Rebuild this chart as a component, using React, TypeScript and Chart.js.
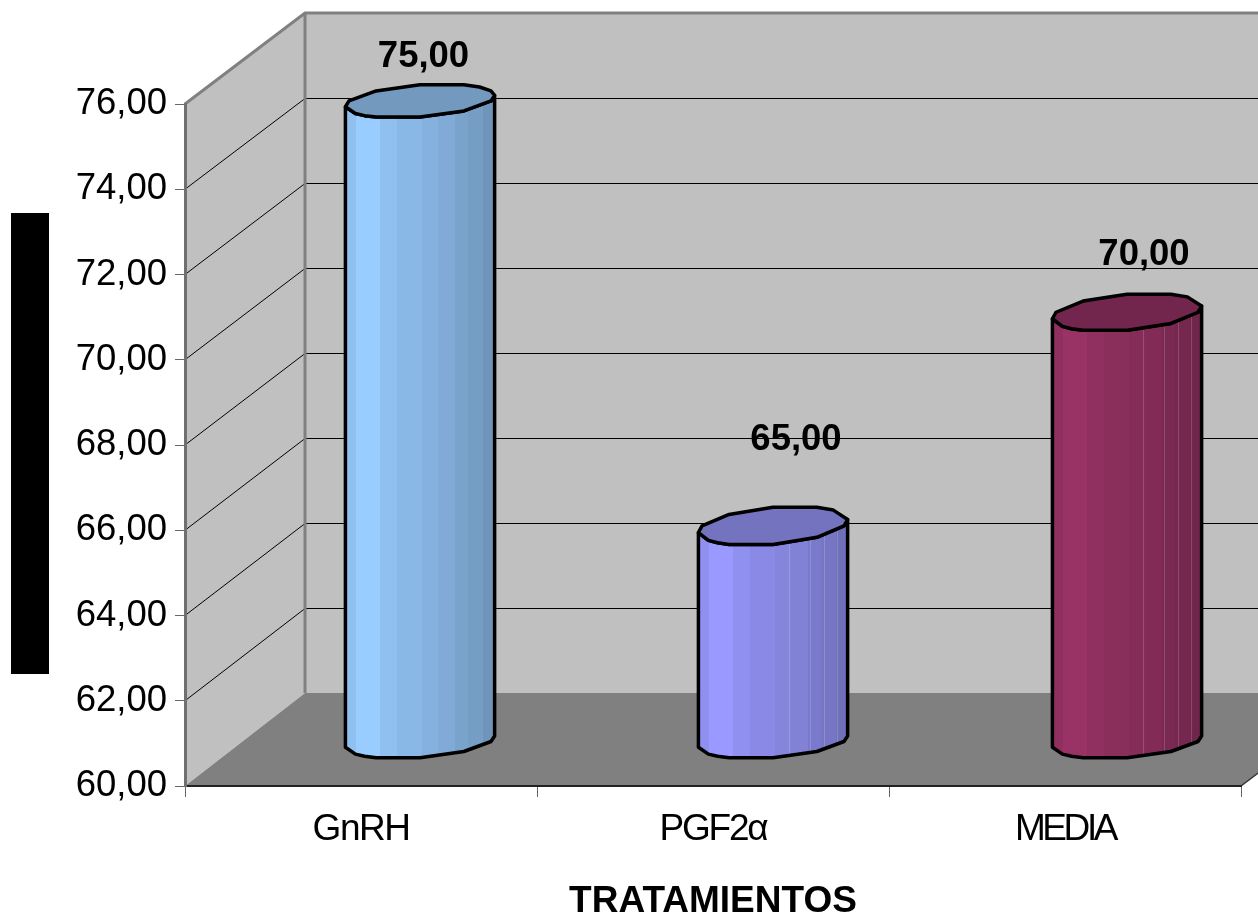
import { useEffect, useRef } from "react";
import { Chart, registerables } from "chart.js";

Chart.register(...registerables);

const categories = ["GnRH", "PGF2α", "MEDIA"];
const values = [75, 65, 70];
const yTicks = [60, 62, 64, 66, 68, 70, 72, 74, 76];
const xTitle = "TRATAMIENTOS";
const baseColors = [
  [153, 204, 255],
  [153, 153, 255],
  [153, 51, 102],
];

const FONT = '"Liberation Sans", Arial, sans-serif';
const fmt = (v: number) => v.toFixed(2).replace(".", ",");

// Oblique projection of the plot box: the vector from the front plane to the back wall.
const DEPTH_X = 120;
const DEPTH_Y = -91;
const BACK_WALL_SQUEEZE = 680 / 682;

// Cylinder cross-section, seen through the same projection.
const RADIUS_X = 71;
const SHEAR_X = 23;
const BASE_RADIUS_Y = 17;
const TOP_RADIUS_Y = [17, 19.5, 19];
const TOP_NUDGE = [-0.2, -1.5, -2];
const BASE_NUDGE = 1;
const CENTER_NUDGE = [-1, 0, 2];
const TOP_ARC = [
  [396, 415],
  [414],
  [414],
];
const FRONT_ARC = [200, 228, 240, 252, 288, 324, 360, 379];
const BACK_ARC = [72, 108, 144, 180];
const SHADE_EDGES = [-76, -64, -40, -23, 2, 18, 35, 48, 63, 76];
const SHADE_LEVELS = [0.94, 1, 0.94, 0.9, 0.87, 0.84, 0.8, 0.77, 0.73];
const SEAM_EDGES = [16, 37, 51, 64];
const SEAM_BARS = [false, true, true];
const TOP_LEVEL = 0.75;
const LABEL_SHIFT = [
  [3.5, -43.5],
  [23, -86],
  [17, -57],
];
const X_LABEL_SPACING = [-1.5, -2.2, -3.4];

const ringPoint = (cx: number, cy: number, deg: number, ry: number) => {
  const t = (deg * Math.PI) / 180;
  return [cx + RADIUS_X * Math.cos(t) + SHEAR_X * Math.sin(t), cy - ry * Math.sin(t)];
};
const shade = (rgb: number[], k: number) =>
  `rgb(${rgb.map((c) => Math.round(c * k)).join(",")})`;

const polygon = (ctx: CanvasRenderingContext2D, pts: number[][]) => {
  ctx.beginPath();
  pts.forEach(([x, y], i) => (i ? ctx.lineTo(x, y) : ctx.moveTo(x, y)));
  ctx.closePath();
};

// Side wall, back wall, floor and the gridlines that run across them.
const boxPlugin = {
  id: "box3d",
  beforeDraw(chart: any) {
    const { ctx, scales } = chart;
    const { left, right } = chart.chartArea;
    const y = scales.y;
    const lo = y.getPixelForValue(yTicks[0]);
    const hi = y.getPixelForValue(yTicks[yTicks.length - 1]);
    const bx = left + DEPTH_X;
    const bRight = right + DEPTH_X;
    const backY = (p: number) => hi + DEPTH_Y + (p - hi) * BACK_WALL_SQUEEZE;
    ctx.save();
    ctx.fillStyle = "#c0c0c0";
    ctx.fillRect(bx, backY(hi), bRight - bx, backY(lo) - backY(hi));
    polygon(ctx, [
      [left, hi],
      [bx, backY(hi)],
      [bx, backY(lo)],
      [left, lo],
    ]);
    ctx.fill();
    ctx.fillStyle = "#808080";
    polygon(ctx, [
      [left, lo],
      [bx, backY(lo)],
      [bRight, backY(lo)],
      [right, lo],
    ]);
    ctx.fill();

    ctx.strokeStyle = "#000";
    ctx.lineWidth = 1;
    yTicks.slice(1, -1).forEach((t) => {
      const p = y.getPixelForValue(t);
      const q = Math.round(backY(p)) + 0.5;
      ctx.beginPath();
      ctx.moveTo(left, p);
      ctx.lineTo(bx, q);
      ctx.lineTo(bRight, q);
      ctx.stroke();
    });

    ctx.strokeStyle = "#808080";
    ctx.lineWidth = 3;
    ctx.beginPath();
    ctx.moveTo(left, hi);
    ctx.lineTo(bx, backY(hi));
    ctx.lineTo(bRight, backY(hi));
    ctx.moveTo(bx, backY(hi));
    ctx.lineTo(bx, backY(lo));
    ctx.stroke();

    ctx.strokeStyle = "#333";
    ctx.lineWidth = 1.5;
    ctx.beginPath();
    ctx.moveTo(right, lo);
    ctx.lineTo(right + DEPTH_X, lo + DEPTH_Y);
    ctx.stroke();

    // Masked axis title.
    ctx.fillStyle = "#000";
    ctx.fillRect(11, 213, 38, 461);
    ctx.restore();
  },
};

// Faceted cylinders placed half way into the box, with their value labels.
const cylinderPlugin = {
  id: "cylinders",
  afterDatasetsDraw(chart: any) {
    const { ctx, scales } = chart;
    const bars = chart.getDatasetMeta(0).data;
    const floor = scales.y.getPixelForValue(yTicks[0]);
    ctx.save();
    ctx.lineJoin = "round";
    bars.forEach((bar: any, i: number) => {
      const cx = bar.x + DEPTH_X / 2 + CENTER_NUDGE[i];
      const top = bar.y + DEPTH_Y / 2 + TOP_NUDGE[i];
      const bottom = floor + DEPTH_Y / 2 + BASE_NUDGE;
      const ry = TOP_RADIUS_Y[i];
      const rgb = baseColors[i];
      const body = [
        ...FRONT_ARC.map((a) => ringPoint(cx, bottom, a, BASE_RADIUS_Y)),
        ...FRONT_ARC.slice().reverse().map((a) => ringPoint(cx, top, a, ry)),
      ];

      ctx.save();
      polygon(ctx, body);
      ctx.clip();
      SHADE_LEVELS.forEach((k, b) => {
        ctx.fillStyle = shade(rgb, k);
        ctx.fillRect(
          cx + SHADE_EDGES[b],
          top - 30,
          SHADE_EDGES[b + 1] - SHADE_EDGES[b] + 0.5,
          bottom - top + 60
        );
      });
      if (SEAM_BARS[i]) {
        ctx.strokeStyle = "rgba(255,255,255,0.17)";
        ctx.lineWidth = 1;
        SEAM_EDGES.forEach((e) => {
          const sx = Math.round(cx + e) + 0.5;
          ctx.beginPath();
          ctx.moveTo(sx, top - 30);
          ctx.lineTo(sx, bottom + 30);
          ctx.stroke();
        });
      }
      ctx.restore();

      ctx.strokeStyle = "#000";
      ctx.lineWidth = 3.5;
      polygon(ctx, body);
      ctx.stroke();

      const ring = [...BACK_ARC, ...FRONT_ARC, ...TOP_ARC[i]];
      polygon(ctx, ring.map((a) => ringPoint(cx, top, a, ry)));
      ctx.fillStyle = shade(rgb, TOP_LEVEL);
      ctx.fill();
      ctx.stroke();

      ctx.fillStyle = "#000";
      ctx.font = `bold 36.5px ${FONT}`;
      ctx.textAlign = "center";
      ctx.textBaseline = "middle";
      ctx.fillText(fmt(values[i]), cx + LABEL_SHIFT[i][0], top + LABEL_SHIFT[i][1]);
    });
    ctx.restore();
  },
};

export default function App() {
  const ref = useRef<HTMLCanvasElement>(null);

  useEffect(() => {
    if (!ref.current) return;
    const chart = new Chart(ref.current, {
      type: "bar",
      data: {
        labels: categories,
        datasets: [{ data: values, backgroundColor: "transparent", borderWidth: 0 }],
      },
      plugins: [boxPlugin, cylinderPlugin],
      options: {
        animation: false,
        responsive: false,
        layout: { padding: { top: 104, right: 17, left: 0, bottom: 0 } },
        plugins: { legend: { display: false }, tooltip: { enabled: false } },
        scales: {
          x: {
            afterFit: (s: any) => {
              s.height = 132;
            },
            afterUpdate: (s: any) => {
              // The category names are set tight, each with its own tracking.
              s.drawLabels = function (area: any) {
                const c = s.ctx;
                s.getLabelItems(area).forEach((item: any, i: number) => {
                  const [x, y] = item.options.translation;
                  c.save();
                  c.font = item.font.string;
                  c.fillStyle = item.options.color;
                  c.textAlign = "center";
                  c.textBaseline = item.options.textBaseline;
                  c.letterSpacing = `${X_LABEL_SPACING[i]}px`;
                  c.fillText(item.label, x, y + item.textOffset);
                  c.restore();
                });
              };
            },
            border: { color: "#222", width: 2 },
            grid: { drawOnChartArea: false, tickLength: 11, color: "#666" },
            ticks: {
              autoSkip: false,
              maxRotation: 0,
              padding: 11,
              color: "#000",
              font: { family: FONT, size: 37 },
            },
            title: {
              display: true,
              text: xTitle,
              color: "#000",
              padding: { top: 0, bottom: -6 },
              font: { family: FONT, size: 37, weight: "bold" },
            },
          },
          y: {
            min: yTicks[0],
            max: yTicks[yTicks.length - 1],
            afterFit: (s: any) => {
              s.width = 185;
            },
            afterBuildTicks: (s: any) => {
              s.ticks = yTicks.map((value) => ({ value }));
            },
            border: { color: "#707070", width: 3 },
            grid: { drawOnChartArea: false, tickLength: 10, color: "#666" },
            ticks: {
              padding: 8,
              color: "#000",
              font: { family: FONT, size: 36.5 },
              callback: (v: any) => fmt(Number(v)),
            },
          },
        },
      } as any,
    });
    return () => chart.destroy();
  }, []);

  return (
    <div style={{ position: "fixed", inset: 0, background: "#fff", overflow: "hidden" }}>
      <canvas ref={ref} width={1258} height={918} style={{ display: "block" }} />
    </div>
  );
}
